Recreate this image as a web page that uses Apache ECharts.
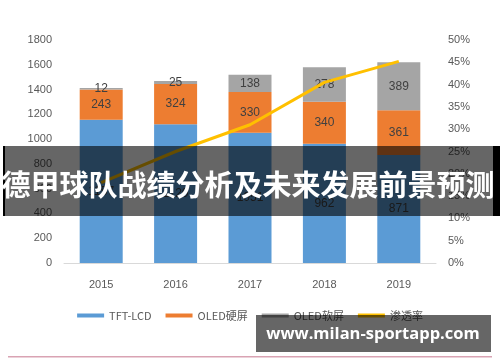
<!DOCTYPE html>
<html><head><meta charset="utf-8">
<script src="https://cdn.jsdelivr.net/npm/echarts@6/dist/echarts.min.js"></script>
<style>html,body{margin:0;padding:0;background:#fff}#c{width:500px;height:362px}</style>
</head><body><div id="c"></div>
<script>
var years = ['2015','2016','2017','2018','2019'];
var tftLcd = [1157, 1120, 1051, 962, 871];
var oledHard = [243, 324, 330, 340, 361];
var oledSoft = [12, 25, 138, 278, 389];
var penetration = [0.18, 0.25, 0.31, 0.405, 0.452];
var leftTicks = {min: 0, max: 1800, interval: 200};
var rightTicks = {min: 0, max: 0.5, interval: 0.05};
var bannerText = '德甲球队战绩分析及未来发展前景预测';
var watermarkText = 'www.milan-sportapp.com';

var chart = echarts.init(document.getElementById('c'));
var lbl = {show: true, position: 'inside', color: '#404040', fontSize: 12, fontFamily: 'Liberation Sans, Arial, sans-serif'};
chart.setOption({
  animation: false,
  textStyle: {fontFamily: 'Liberation Sans, Arial, sans-serif'},
  grid: {left: 64, right: 64, top: 40, bottom: 99},
  legend: {
    bottom: 36, left: 'center', itemWidth: 27, itemHeight: 4, itemGap: 14,
    icon: 'rect',
    textStyle: {color: '#595959', fontSize: 11, fontFamily: 'Noto Sans CJK SC'},
    data: ['TFT-LCD', 'OLED硬屏', 'OLED软屏', '渗透率']
  },
  xAxis: {
    type: 'category', data: years,
    axisLine: {lineStyle: {color: '#d9d9d9'}},
    axisTick: {show: false},
    axisLabel: {color: '#595959', fontSize: 11, margin: 16}
  },
  yAxis: [
    {type: 'value', min: leftTicks.min, max: leftTicks.max, interval: leftTicks.interval,
     splitLine: {show: false}, axisLine: {show: false}, axisTick: {show: false},
     axisLabel: {color: '#595959', fontSize: 11, margin: 12, formatter: function (v) { return String(v); }}},
    {type: 'value', min: rightTicks.min, max: rightTicks.max, interval: rightTicks.interval,
     splitLine: {show: false}, axisLine: {show: false}, axisTick: {show: false},
     axisLabel: {color: '#595959', fontSize: 11, margin: 12,
       formatter: function (v) { return Math.round(v * 100) + '%'; }}}
  ],
  series: [
    {name: 'TFT-LCD', type: 'bar', stack: 's', barWidth: 43, data: tftLcd,
     itemStyle: {color: '#5B9BD5'}, label: lbl},
    {name: 'OLED硬屏', type: 'bar', stack: 's', barWidth: 43, data: oledHard,
     itemStyle: {color: '#ED7D31'}, label: lbl},
    {name: 'OLED软屏', type: 'bar', stack: 's', barWidth: 43, data: oledSoft,
     itemStyle: {color: '#A5A5A5'}, label: lbl},
    {name: '渗透率', type: 'line', yAxisIndex: 1, data: penetration,
     showSymbol: false, symbol: 'none', lineStyle: {color: '#FFC000', width: 3},
     itemStyle: {color: '#FFC000'}}
  ],
  graphic: [
    {type: 'rect', shape: {x: 5, y: 146, width: 488, height: 70}, style: {fill: 'rgba(0,0,0,0.6)'}, z: 100},
    {type: 'rect', shape: {x: 3, y: 146, width: 2, height: 70}, style: {fill: '#000'}, z: 100},
    {type: 'rect', shape: {x: 493, y: 146, width: 7, height: 70}, style: {fill: '#000'}, z: 100},
    {type: 'text', x: 248, y: 185, z: 101,
     style: {text: bannerText, fill: '#fff', font: 'bold 29px "Noto Sans CJK SC"', align: 'center', verticalAlign: 'middle'}},
    {type: 'rect', shape: {x: 256, y: 315, width: 235, height: 37}, style: {fill: 'rgba(0,0,0,0.6)'}, z: 100},
    {type: 'text', x: 373, y: 334, z: 101,
     style: {text: watermarkText, fill: '#fff', font: 'bold 16.5px "Open Sans"', align: 'center', verticalAlign: 'middle'}},
    {type: 'rect', shape: {x: 8, y: 356, width: 484, height: 1.5}, style: {fill: '#d9a3b3'}, z: 100}
  ]
});
</script></body></html>
